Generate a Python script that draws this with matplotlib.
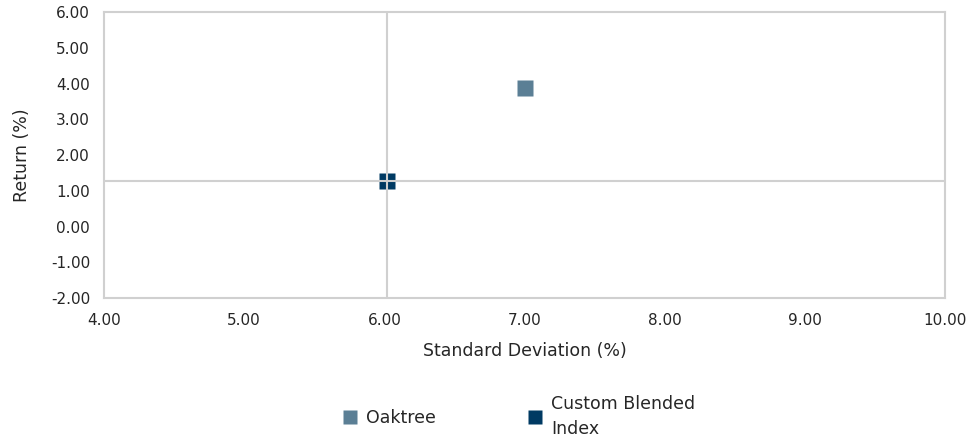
import matplotlib
matplotlib.use("Agg")
import matplotlib.pyplot as plt
from matplotlib.lines import Line2D

plt.rcParams['font.family'] = ['DejaVu Sans']

# Risk / return data
names = ["Oaktree", "Custom Blended\nIndex"]
std_dev = [7.00, 6.02]
returns = [3.87, 1.26]
colors = ["#5B7F95", "#003A63"]

x_ticks = [4, 5, 6, 7, 8, 9, 10]
y_ticks = [-2, -1, 0, 1, 2, 3, 4, 5, 6]

grid_color = "#D0D0D0"
text_color = "#262626"

fig = plt.figure(figsize=(9.72, 4.4), dpi=100)
ax = fig.add_axes([104 / 972, 1 - 298 / 440, (945 - 104) / 972, (298 - 12) / 440])

ax.set_xlim(x_ticks[0], x_ticks[-1])
ax.set_ylim(y_ticks[0], y_ticks[-1])
ax.set_xticks(x_ticks)
ax.set_yticks(y_ticks)
ax.set_xticklabels([f"{v:.2f}" for v in x_ticks])
ax.set_yticklabels([f"{v:.2f}" for v in y_ticks])
ax.tick_params(axis="x", length=0, labelsize=11, colors=text_color, pad=11)
ax.tick_params(axis="y", length=0, labelsize=11, colors=text_color, pad=10)

for s in ax.spines.values():
    s.set_color(grid_color)
    s.set_linewidth(1.5)

for x, y, c in zip(std_dev, returns, colors):
    ax.plot([x], [y], marker="s", ms=11.5, color=c, mec="none", ls="none", zorder=3)

# Crosshair through the benchmark, drawn over the markers
ax.axvline(std_dev[1], color=grid_color, lw=1.5, zorder=4)
ax.axhline(returns[1], color=grid_color, lw=1.5, zorder=4)

ax.set_xlabel("Standard Deviation (%)", fontsize=12.5, color=text_color, labelpad=10)
ax.set_ylabel("Return (%)", fontsize=12.5, color=text_color, labelpad=14)

handles = [Line2D([0], [0], marker="s", ms=10, color=c, mec="none", ls="none") for c in colors]
leg = fig.legend(handles, names, loc="center", bbox_to_anchor=(0.534, 1 - 416 / 440), ncol=2,
                 frameon=False, fontsize=12.5, handlelength=0.8, handletextpad=0.55,
                 columnspacing=5.3, labelcolor=text_color)
for t in leg.get_texts():
    t.set_linespacing(1.5)

fig.savefig("out.png", dpi=100)
